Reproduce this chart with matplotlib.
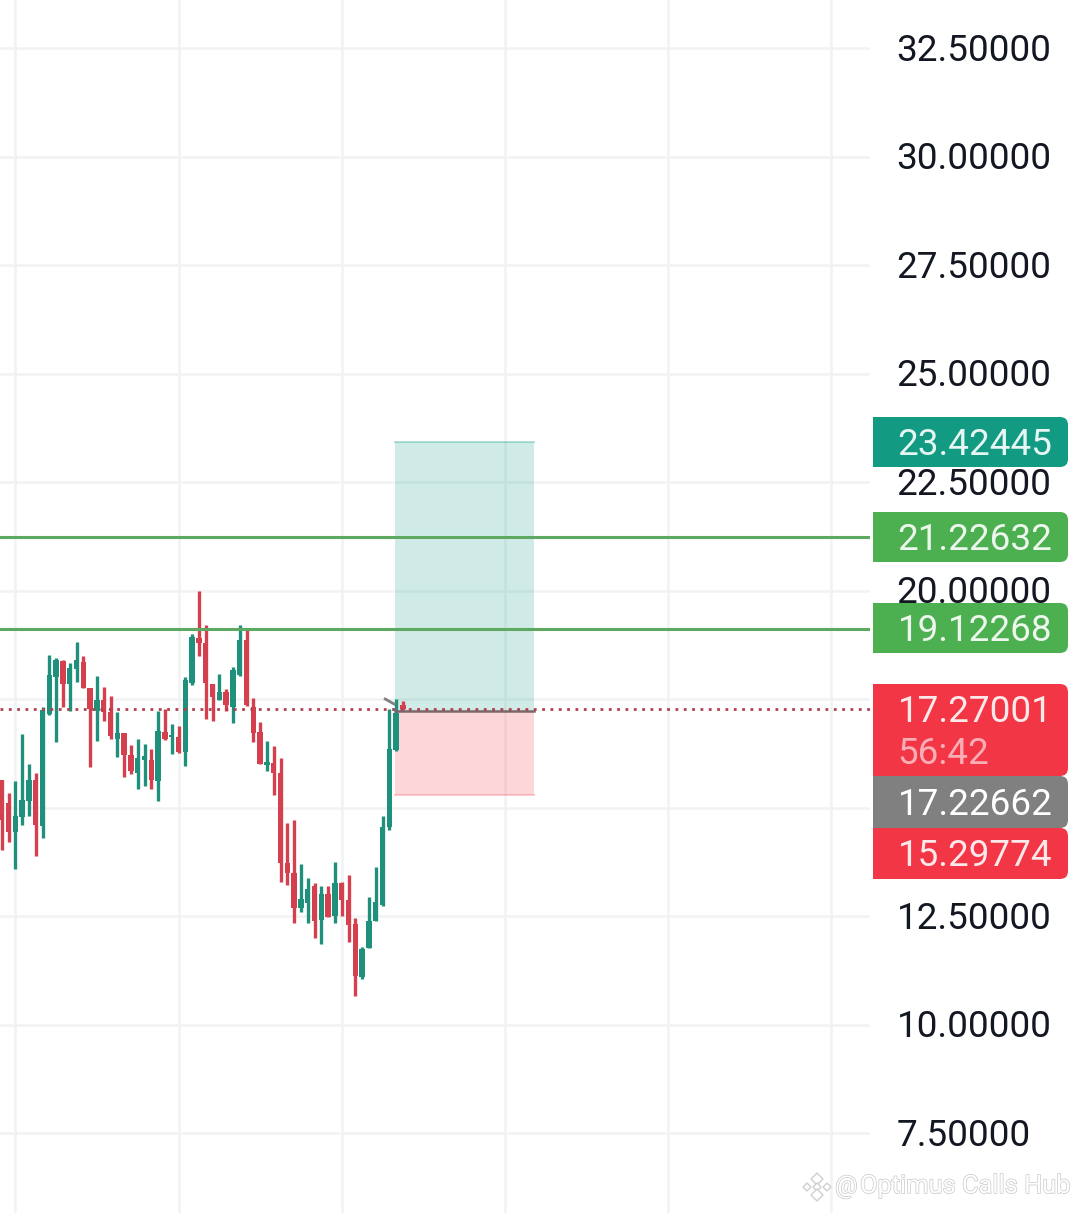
import matplotlib
matplotlib.use('Agg')
import matplotlib.pyplot as plt
import matplotlib.patheffects as pe
import numpy as np
from matplotlib.patches import PathPatch, Rectangle, RegularPolygon
from matplotlib.path import Path
from matplotlib.transforms import Affine2D

plt.rcParams['font.family'] = ['Roboto', 'DejaVu Sans']

W, H = 1080, 1213

high_prices = [15.63, 15.34, 15.60, 16.69, 16.00, 15.80, 17.31, 18.51, 18.44, 18.41,
               18.34, 18.81, 18.49, 17.75, 18.03, 17.77, 17.57, 17.20, 16.71, 16.44,
               16.59, 16.46, 16.35, 17.23, 17.26, 16.92, 16.88, 18.01, 18.99, 19.99,
               19.21, 17.85, 18.08, 17.72, 18.23, 19.21, 19.11, 17.52, 16.96, 16.53,
               16.42, 16.13, 14.64, 14.71, 13.70, 13.37, 13.25, 13.19, 13.19, 13.75,
               13.29, 13.45, 12.45, 11.78, 12.93, 13.62, 14.80, 17.26, 17.49, 17.46]
open_prices = [15.63, 15.11, 14.44, 14.77, 15.16, 15.63, 14.57, 17.15, 18.00, 18.38,
               17.85, 18.18, 18.36, 17.75, 17.23, 17.48, 17.21, 16.59, 16.71, 16.21,
               15.80, 16.09, 16.09, 15.60, 16.75, 16.62, 16.63, 16.29, 17.86, 18.90,
               18.78, 17.85, 17.48, 17.67, 17.32, 18.05, 18.86, 17.32, 16.74, 15.98,
               16.02, 15.79, 13.73, 13.48, 12.68, 12.81, 13.18, 12.41, 13.01, 12.49,
               13.27, 12.87, 12.32, 11.10, 11.76, 12.39, 12.75, 14.56, 16.33, 17.36]
close_prices = [14.71, 14.44, 14.80, 15.17, 15.63, 14.60, 17.25, 18.05, 18.40, 17.85,
                18.21, 18.40, 17.75, 17.26, 17.48, 17.21, 16.65, 16.72, 16.20, 15.83,
                16.13, 16.19, 15.63, 16.77, 16.57, 16.68, 16.28, 17.94, 18.92, 18.78,
                17.88, 17.55, 17.67, 17.36, 18.17, 18.86, 17.36, 16.72, 16.00, 16.06,
                15.80, 13.73, 13.48, 12.68, 12.89, 13.12, 12.39, 13.01, 12.47, 13.27,
                12.87, 12.29, 11.12, 11.73, 12.39, 12.83, 14.56, 16.34, 17.17, 17.27]
low_prices = [14.02, 14.21, 13.58, 14.60, 14.80, 13.88, 14.29, 17.13, 16.52, 17.32,
              17.23, 17.90, 17.75, 15.93, 16.54, 17.00, 16.59, 16.17, 15.71, 15.77,
              15.43, 15.50, 15.43, 15.16, 16.56, 16.23, 16.26, 15.96, 17.82, 18.48,
              17.05, 17.00, 17.48, 17.23, 16.94, 18.04, 17.35, 16.52, 16.00, 15.83,
              15.29, 13.29, 13.22, 12.33, 12.60, 12.35, 12.00, 11.85, 12.47, 12.35,
              12.50, 11.89, 10.66, 11.06, 11.76, 12.39, 12.72, 14.48, 16.31, 17.25]

y_ticks = [32.5, 30.0, 27.5, 25.0, 22.5, 20.0, 17.5, 15.0, 12.5, 10.0, 7.5]
# 17.5 and 15 are hidden behind the price labels
y_tick_labels = ['32.50000', '30.00000', '27.50000', '25.00000', '22.50000', '20.00000',
                 '', '', '12.50000', '10.00000', '7.50000']
x_gridlines = [2, 26, 50, 74, 98, 122]

target_price = 23.42445
resistance_upper = 21.22632
resistance_lower = 19.12268
last_price = 17.27001
entry_price = 17.22662
stop_price = 15.29774
countdown = '56:42'
box_start, box_end = 57.85, 78.3
drawing_x = [56.4, 57.7]
drawing_y = [17.50, 17.385]

GREEN = '#1F907B'
RED = '#D5404F'
GRID = '#F1F2F4'

fig = plt.figure(figsize=(W / 100, H / 100), dpi=100, facecolor='white')
ax = fig.add_axes([0, 0, 870 / W, 1])
ax.set_xlim(-0.25, 127.68)
ax.set_ylim(5.657, 33.606)
for side in ax.spines.values():
    side.set_visible(False)

ax.set_axisbelow(True)
ax.set_xticks(x_gridlines)
ax.set_xticklabels([])
ax.set_yticks(y_ticks)
ax.set_yticklabels(y_tick_labels)
ax.yaxis.tick_right()
ax.tick_params(axis='both', length=0)
ax.tick_params(axis='y', pad=19.2, labelsize=26.6, labelcolor='#131722')
ax.grid(True, color=GRID, linewidth=1.8)
for lab in ax.get_yticklabels():
    lab.set_transform(lab.get_transform() + Affine2D().translate(0, 1.5))

# position tool
ax.add_patch(Rectangle((box_start, entry_price), box_end - box_start, target_price - entry_price,
                       facecolor='#089981', alpha=0.19, edgecolor='none', zorder=1))
ax.add_patch(Rectangle((box_start, stop_price), box_end - box_start, entry_price - stop_price,
                       facecolor='#F23645', alpha=0.2, edgecolor='none', zorder=1))
ax.plot([box_start, box_end], [target_price, target_price], color='#089981', alpha=0.3, linewidth=1.4, zorder=1)
ax.plot([box_start, box_end], [stop_price, stop_price], color='#F23645', alpha=0.25, linewidth=1.4, zorder=1)

# candles
x = np.arange(len(close_prices))
opens = np.array(open_prices)
closes = np.array(close_prices)
colors = [GREEN if c >= o else RED for o, c in zip(opens, closes)]
ax.vlines(x, low_prices, high_prices, colors=colors, linewidth=2.4, zorder=3)
ax.bar(x, np.abs(closes - opens), bottom=np.minimum(opens, closes), width=0.8,
       color=colors, linewidth=0, zorder=3)

ax.axhline(resistance_upper, color='#5DA961', linewidth=2.2, zorder=4)
ax.axhline(resistance_lower, color='#5DA961', linewidth=2.2, zorder=4)
ax.axhline(last_price, color='#B23F4C', linewidth=2.0, linestyle=(0, (1, 2)), zorder=4)
ax.plot([box_start, box_end], [entry_price, entry_price], color='#77686B', linewidth=1.8, zorder=3.5)
ax.plot(drawing_x, drawing_y, color='#808080', linewidth=2.0, zorder=4)

# price labels sit on top of the tick labels, in screen pixels
pix = Affine2D().scale(1, -1).translate(0, H)


def price_label(top, bottom, color, r=8, left=873, right=1068):
    verts = [(left, top), (right - r, top), (right, top), (right, top + r),
             (right, bottom - r), (right, bottom), (right - r, bottom), (left, bottom), (left, top)]
    codes = [Path.MOVETO, Path.LINETO, Path.CURVE3, Path.CURVE3,
             Path.LINETO, Path.CURVE3, Path.CURVE3, Path.LINETO, Path.CLOSEPOLY]
    fig.add_artist(PathPatch(Path(verts, codes), facecolor=color, edgecolor='none', transform=pix, zorder=5))


def label_text(y, s, color):
    fig.text(897.5, y + 3, s, color=color, fontsize=26.6, va='center', ha='left', transform=pix, zorder=6)


price_label(417, 467, '#129A82')
label_text(442, f'{target_price:.5f}', '#E6F6F2')
price_label(512, 562, '#4CAF50')
label_text(537, f'{resistance_upper:.5f}', '#EDF7EE')
price_label(603, 653, '#4CAF50')
label_text(628, f'{resistance_lower:.5f}', '#EDF7EE')
price_label(684, 776, '#F23645')
label_text(709, f'{last_price:.5f}', '#FDE8EA')
label_text(751, countdown, '#F9AEB6')
price_label(776, 828, '#808080')
label_text(802, f'{entry_price:.5f}', '#FFFFFF')
price_label(828, 879, '#F23645')
label_text(853, f'{stop_price:.5f}', '#FDE8EA')

# watermark
stroke = [pe.withStroke(linewidth=1.0, foreground='#C8C8C8')]
fig.text(835, 1186, '@', color='white', fontsize=18, va='center', ha='left', transform=pix,
         zorder=6, path_effects=stroke)
fig.text(860, 1186, 'Optimus Calls Hub', color='white', fontsize=18.3, va='center', ha='left',
         transform=pix, zorder=6, path_effects=stroke)
for cx, cy, rad in [(817, 1179, 6), (807, 1187, 4), (827, 1187, 4), (817, 1187, 4), (817, 1195, 6)]:
    fig.add_artist(RegularPolygon((cx, cy), 4, radius=rad, facecolor='white', edgecolor='#CFCFCF',
                                  linewidth=1.0, transform=pix, zorder=6))

fig.savefig('out.png', dpi=100)
